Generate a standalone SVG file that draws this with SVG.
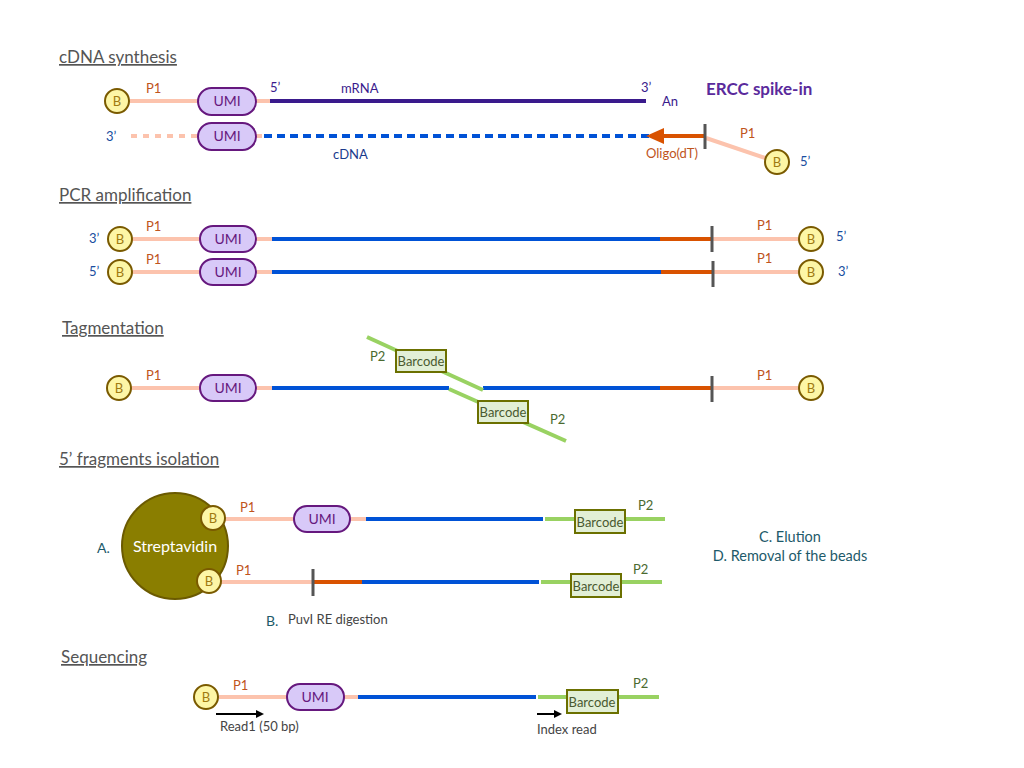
<svg xmlns="http://www.w3.org/2000/svg" width="1024" height="768" viewBox="0 0 1024 768">
<defs>
<style>
text{font-family:Lato,"Open Sans","Liberation Sans",sans-serif}
.title{font-size:17px;fill:#555;text-decoration:underline}
.p1{font-size:13px;fill:#c0541c}
.p2{font-size:13px;fill:#4a6a30}
.end{font-size:13px;fill:#1a4ea0}
.bead circle{fill:#fdf6a6;stroke:#7a5a00;stroke-width:2}
.bead text{font-size:13px;fill:#a07a10;text-anchor:middle}
.umi rect{fill:#d8c9f8;stroke:#66187e;stroke-width:2}
.umi text{font-size:14px;fill:#66187e;text-anchor:middle}
.bc rect{fill:#e2efd6;stroke:#6b7000;stroke-width:2}
.bc text{font-size:13px;fill:#4a5a30;text-anchor:middle}
.pink{stroke:#fcc3ad;stroke-width:4;fill:none}
.blue{stroke:#0052d6;stroke-width:4;fill:none}
.mrna{stroke:#3a1a8c;stroke-width:4;fill:none}
.org{stroke:#d95200;stroke-width:4;fill:none}
.grn{stroke:#99d262;stroke-width:4;fill:none}
.tick{stroke:#555;stroke-width:3}
.teal{fill:#1d5a6a}
.grey{fill:#444;font-size:13px}
</style>
<marker id="ah" markerWidth="8" markerHeight="8" refX="6" refY="4" orient="auto" markerUnits="userSpaceOnUse"><path d="M0,0 L8,4 L0,8 Z" fill="#000"/></marker>
</defs>
<rect width="1024" height="768" fill="#fff"/>

<g id="titles">
<text class="title" x="59" y="63">cDNA synthesis</text>
<text class="title" x="59" y="201">PCR amplification</text>
<text class="title" x="62" y="334">Tagmentation</text>
<text class="title" x="59" y="465">5’ fragments isolation</text>
<text class="title" x="61" y="663">Sequencing</text>
</g>

<g id="connectors">
<line class="pink" x1="130" y1="101" x2="200" y2="101"/>
<line class="pink" x1="254" y1="101" x2="272" y2="101"/>
<line class="mrna" x1="270" y1="101" x2="646" y2="101"/>
<line class="pink" x1="131" y1="136" x2="198" y2="136" stroke-dasharray="6,6"/>
<line class="pink" x1="256" y1="136" x2="262" y2="136"/>
<line class="blue" x1="264" y1="136" x2="650" y2="136" stroke-dasharray="8,5"/>
<line class="org" x1="705" y1="136" x2="662" y2="136"/>
<path d="M646,136 L664,128 L664,144 Z" fill="#d95200"/>
<line class="pink" x1="706" y1="138" x2="768" y2="159"/>
<line class="tick" x1="705" y1="124" x2="705" y2="149"/>
<line class="pink" x1="132" y1="239" x2="200" y2="239"/>
<line class="pink" x1="256" y1="239" x2="272" y2="239"/>
<line class="blue" x1="272" y1="239" x2="660" y2="239"/>
<line class="org" x1="660" y1="239" x2="712" y2="239"/>
<line class="pink" x1="712" y1="239" x2="800" y2="239"/>
<line class="tick" x1="712" y1="226" x2="712" y2="252"/>
<line class="pink" x1="132" y1="272" x2="200" y2="272"/>
<line class="pink" x1="256" y1="272" x2="272" y2="272"/>
<line class="blue" x1="272" y1="272" x2="661" y2="272"/>
<line class="org" x1="661" y1="272" x2="713" y2="272"/>
<line class="pink" x1="713" y1="272" x2="800" y2="272"/>
<line class="tick" x1="713" y1="261" x2="713" y2="287"/>
<line class="pink" x1="131" y1="388" x2="200" y2="388"/>
<line class="pink" x1="256" y1="388" x2="272" y2="388"/>
<line class="blue" x1="272" y1="388" x2="449" y2="388"/>
<line class="blue" x1="483" y1="388" x2="660" y2="388"/>
<line class="org" x1="660" y1="388" x2="712" y2="388"/>
<line class="pink" x1="712" y1="388" x2="800" y2="388"/>
<line class="tick" x1="712" y1="376" x2="712" y2="402"/>
<line class="grn" x1="367" y1="337" x2="483" y2="390"/>
<line class="grn" x1="449" y1="389" x2="566" y2="441"/>
<line class="pink" x1="225" y1="519" x2="294" y2="519"/>
<line class="pink" x1="350" y1="519" x2="366" y2="519"/>
<line class="blue" x1="366" y1="519" x2="543" y2="519"/>
<line class="grn" x1="545" y1="519" x2="665" y2="519"/>
<line class="pink" x1="221" y1="582" x2="313" y2="582"/>
<line class="org" x1="313" y1="582" x2="362" y2="582"/>
<line class="blue" x1="362" y1="582" x2="539" y2="582"/>
<line class="grn" x1="541" y1="582" x2="662" y2="582"/>
<line class="tick" x1="313" y1="569" x2="313" y2="596"/>
<line class="pink" x1="219" y1="697" x2="288" y2="697"/>
<line class="pink" x1="344" y1="697" x2="358" y2="697"/>
<line class="blue" x1="358" y1="697" x2="536" y2="697"/>
<line class="grn" x1="538" y1="697" x2="659" y2="697"/>
<line x1="216" y1="714" x2="262" y2="714" stroke="#000" stroke-width="2" marker-end="url(#ah)"/>
<line x1="537" y1="714" x2="560" y2="714" stroke="#000" stroke-width="2" marker-end="url(#ah)"/>
</g>

<g id="r1-bead"><g class="bead"><circle cx="117" cy="101" r="12"/><text x="117" y="106">B</text></g></g>
<g id="r1-umi" class="umi"><rect x="198" y="88" width="58" height="27" rx="13.5"/><text x="227" y="106">UMI</text></g>
<g id="r1b-umi" class="umi"><rect x="198" y="123" width="58" height="27" rx="13.5"/><text x="227" y="141">UMI</text></g>
<g id="r1-bead2"><g class="bead"><circle cx="777" cy="162" r="12"/><text x="777" y="167">B</text></g></g>
<g id="r1-labels">
<text class="p1" x="146" y="93">P1</text>
<text x="270" y="92" font-size="13" fill="#3a1a8c">5’</text>
<text x="341" y="93" font-size="13" fill="#3a1a8c">mRNA</text>
<text x="641" y="92" font-size="13" fill="#3a1a8c">3’</text>
<text x="662" y="106" font-size="13" fill="#3a1a8c">An</text>
<text x="706" y="95" font-size="17" font-weight="bold" fill="#5a2a9c">ERCC spike-in</text>
<text class="end" x="106" y="141">3’</text>
<text x="333" y="159" font-size="13" fill="#1a3a8c">cDNA</text>
<text x="646" y="158" font-size="13" fill="#c0541c">Oligo(dT)</text>
<text class="p1" x="740" y="138">P1</text>
<text class="end" x="800" y="166">5’</text>
</g>

<g id="r2a-bead1"><g class="bead"><circle cx="120" cy="239" r="12"/><text x="120" y="244">B</text></g></g>
<g id="r2a-umi" class="umi"><rect x="200" y="226" width="56" height="26" rx="13"/><text x="228" y="244">UMI</text></g>
<g id="r2a-bead2"><g class="bead"><circle cx="811" cy="239" r="12"/><text x="811" y="244">B</text></g></g>
<g id="r2b-bead1"><g class="bead"><circle cx="120" cy="272" r="12"/><text x="120" y="277">B</text></g></g>
<g id="r2b-umi" class="umi"><rect x="200" y="259" width="56" height="26" rx="13"/><text x="228" y="277">UMI</text></g>
<g id="r2b-bead2"><g class="bead"><circle cx="811" cy="272" r="12"/><text x="811" y="277">B</text></g></g>
<g id="r2-labels">
<text class="end" x="89" y="243">3’</text>
<text class="p1" x="146" y="231">P1</text>
<text class="p1" x="757" y="230">P1</text>
<text class="end" x="836" y="241">5’</text>
<text class="end" x="89" y="276">5’</text>
<text class="p1" x="146" y="264">P1</text>
<text class="p1" x="757" y="263">P1</text>
<text class="end" x="838" y="276">3’</text>
</g>

<g id="r3-bead1"><g class="bead"><circle cx="119" cy="388" r="12"/><text x="119" y="393">B</text></g></g>
<g id="r3-umi" class="umi"><rect x="200" y="375" width="56" height="26" rx="13"/><text x="228" y="393">UMI</text></g>
<g id="r3-bead2"><g class="bead"><circle cx="811" cy="388" r="12"/><text x="811" y="393">B</text></g></g>
<g id="r3-bc1" class="bc"><rect x="396" y="350" width="50" height="22"/><text x="421" y="366">Barcode</text></g>
<g id="r3-bc2" class="bc"><rect x="478" y="401" width="50" height="22"/><text x="503" y="417">Barcode</text></g>
<g id="r3-labels">
<text class="p1" x="146" y="380">P1</text>
<text class="p1" x="757" y="380">P1</text>
<text class="p2" x="370" y="361">P2</text>
<text class="p2" x="550" y="424">P2</text>
</g>

<g id="streptavidin"><circle cx="175" cy="546" r="53" fill="#8a7e00" stroke="#6b5a00" stroke-width="2"/><text x="175" y="552" font-size="16" fill="#fff" text-anchor="middle">Streptavidin</text></g>
<g id="r4a-bead"><g class="bead"><circle cx="213" cy="518" r="12"/><text x="213" y="523">B</text></g></g>
<g id="r4b-bead"><g class="bead"><circle cx="209" cy="581" r="12"/><text x="209" y="586">B</text></g></g>
<g id="r4a-umi" class="umi"><rect x="294" y="506" width="56" height="26" rx="13"/><text x="322" y="524">UMI</text></g>
<g id="r4a-bc" class="bc"><rect x="575" y="510" width="50" height="23"/><text x="600" y="527">Barcode</text></g>
<g id="r4b-bc" class="bc"><rect x="571" y="574" width="50" height="23"/><text x="596" y="591">Barcode</text></g>
<g id="r4-labels">
<text class="teal" x="97" y="553" font-size="14">A.</text>
<text class="p1" x="240" y="512">P1</text>
<text class="p2" x="638" y="510">P2</text>
<text class="p1" x="236" y="575">P1</text>
<text class="p2" x="633" y="574">P2</text>
<text class="teal" x="266" y="626" font-size="14">B.</text>
<text class="grey" x="288" y="624">PuvI RE digestion</text>
<text class="teal" x="790" y="542" font-size="14.5" text-anchor="middle">C. Elution</text>
<text class="teal" x="790" y="561" font-size="14.5" text-anchor="middle">D. Removal of the beads</text>
</g>

<g id="r5-bead"><g class="bead"><circle cx="206" cy="697" r="12"/><text x="206" y="702">B</text></g></g>
<g id="r5-umi" class="umi"><rect x="287" y="684" width="57" height="26" rx="13"/><text x="315" y="702">UMI</text></g>
<g id="r5-bc" class="bc"><rect x="567" y="690" width="51" height="23"/><text x="592" y="707">Barcode</text></g>
<g id="r5-labels">
<text class="p1" x="233" y="690">P1</text>
<text class="p2" x="633" y="688">P2</text>
<text class="grey" x="220" y="731">Read1 (50 bp)</text>
<text class="grey" x="537" y="734">Index read</text>
</g>
</svg>
